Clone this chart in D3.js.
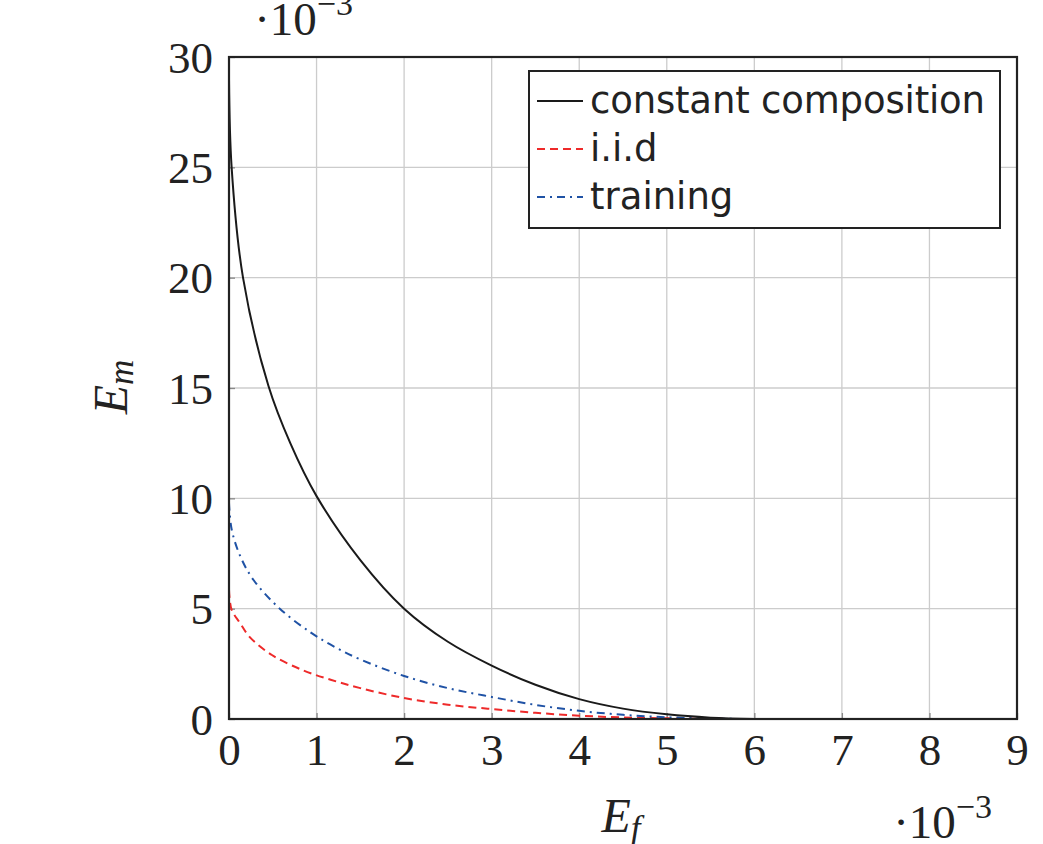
<html>
<head>
    <meta charset="UTF-8" />
    <script src="https://d3js.org/d3.v7.min.js"></script>
    <style>
        body { margin: 0; background: white; }
        .tick text { font-family: 'Liberation Serif', serif; font-size: 45px; fill: #222; }
        .legend text { font-family: 'DejaVu Sans', sans-serif; fill: #222; }
    </style>
</head>
<body>
<svg id='chart' width='1043' height='844'></svg>
<script>
    // data (E_f and E_m both in units of 1e-3)
    const xTicks = [0, 1, 2, 3, 4, 5, 6, 7, 8, 9];
    const yTicks = [0, 5, 10, 15, 20, 25, 30];

    const constEf = [0, 0.03, 0.16, 0.45, 0.7, 1, 1.5, 2, 2.5, 3, 3.5, 4, 4.5, 5, 5.5, 6];
    const constEm = [29, 25, 20, 15.1, 12.5, 10.1, 7.2, 5.0, 3.5, 2.42, 1.55, 0.9, 0.47, 0.21, 0.06, 0];

    const iidEf = [0, 0.03, 0.126, 0.24, 0.49, 0.85, 1.17, 1.5, 2, 2.5, 3, 3.5, 4, 4.5, 5, 5.5, 6];
    const iidEm = [5.85, 4.95, 4.35, 3.7, 2.9, 2.2, 1.77, 1.4, 0.95, 0.65, 0.45, 0.28, 0.15, 0.07, 0.03, 0.01, 0];

    const trainEf = [0, 0.03, 0.126, 0.28, 0.58, 0.94, 1.21, 1.5, 2, 2.5, 3, 3.5, 4, 4.5, 5, 5.5, 6];
    const trainEm = [9.8, 8.6, 7.4, 6.3, 5.0, 3.9, 3.26, 2.7, 1.95, 1.4, 1.0, 0.64, 0.37, 0.19, 0.08, 0.02, 0];

    const seriesNames = ['constant composition', 'i.i.d', 'training'];
    const seriesColors = ['#1a1a1a', '#ee2a2a', '#1f52a5'];
    const seriesDash = [null, '8,5', '8,5,2,5'];

    const svg = d3.select('svg#chart');
    const margins = {top: 57, right: 26, bottom: 125, left: 229};
    const chartWidth = 1043 - margins.left - margins.right;
    const chartHeight = 844 - margins.top - margins.bottom;
    const chartArea = svg.append('g')
        .attr('transform', `translate(${margins.left}, ${margins.top})`);

    const xScale = d3.scaleLinear().domain([0, 9]).range([0, chartWidth]);
    const yScale = d3.scaleLinear().domain([0, 30]).range([chartHeight, 0]);

    // gridlines
    xTicks.forEach(t => {
        chartArea.append('line')
            .attr('x1', xScale(t)).attr('x2', xScale(t))
            .attr('y1', 0).attr('y2', chartHeight)
            .style('stroke', '#cccccc').style('stroke-width', '1.3px');
    });
    yTicks.forEach(t => {
        chartArea.append('line')
            .attr('x1', 0).attr('x2', chartWidth)
            .attr('y1', yScale(t)).attr('y2', yScale(t))
            .style('stroke', '#cccccc').style('stroke-width', '1.3px');
    });

    // axes (ticks pointing inward, pgfplots style)
    const xAxis = chartArea.append('g')
        .attr('transform', `translate(0, ${chartHeight})`)
        .call(d3.axisBottom(xScale).tickValues(xTicks).tickSize(-6).tickPadding(14));
    const yAxis = chartArea.append('g')
        .call(d3.axisLeft(yScale).tickValues(yTicks).tickSize(-6).tickPadding(16));
    [xAxis, yAxis].forEach(a => {
        a.select('.domain').remove();
        a.selectAll('.tick line').style('stroke', '#888').style('stroke-width', '1.3px');
    });
    xAxis.selectAll('.tick text').attr('dy', '0.72em');
    yAxis.selectAll('.tick text').attr('dy', '0.34em');

    // curves
    const line = d3.line().curve(d3.curveCatmullRom.alpha(0.5))
        .x(d => xScale(d[0])).y(d => yScale(d[1]));
    const seriesData = [
        constEf.map((v, i) => [v, constEm[i]]),
        iidEf.map((v, i) => [v, iidEm[i]]),
        trainEf.map((v, i) => [v, trainEm[i]])
    ];
    [1, 2, 0].forEach(k => {
        chartArea.append('path')
            .attr('d', line(seriesData[k]))
            .attr('fill', 'none')
            .attr('stroke', seriesColors[k])
            .attr('stroke-width', 2)
            .attr('stroke-dasharray', seriesDash[k]);
    });

    // frame
    chartArea.append('rect')
        .attr('x', 0).attr('y', 0)
        .attr('width', chartWidth).attr('height', chartHeight)
        .attr('fill', 'none').attr('stroke', '#222').attr('stroke-width', 2.2);

    // legend
    const legend = chartArea.append('g').attr('class', 'legend')
        .attr('transform', `translate(${529 - margins.left}, ${71 - margins.top})`);
    legend.append('rect')
        .attr('width', 471).attr('height', 157)
        .attr('fill', 'white').attr('stroke', '#222').attr('stroke-width', 2);
    seriesNames.forEach((name, i) => {
        const cy = 30 + i * 48;
        legend.append('line')
            .attr('x1', 8).attr('x2', 54)
            .attr('y1', cy).attr('y2', cy)
            .attr('stroke', seriesColors[i]).attr('stroke-width', 2)
            .attr('stroke-dasharray', seriesDash[i]);
        legend.append('text')
            .attr('x', 61).attr('y', cy + 12)
            .style('font-size', '37px')
            .attr('textLength', i === 0 ? 395 : null)
            .text(name);
    });

    // axis labels
    const lab = svg.append('g').style('font-family', "'Liberation Serif', serif").style('fill', '#222');
    const ym = lab.append('text')
        .attr('transform', 'translate(127, 387) rotate(-90)')
        .attr('text-anchor', 'middle')
        .style('font-size', '48px').style('font-style', 'italic');
    ym.append('tspan').text('E');
    ym.append('tspan').text('m').style('font-size', '35px').attr('dy', '6');

    const xf = lab.append('text')
        .attr('x', 621).attr('y', 832)
        .attr('text-anchor', 'middle')
        .style('font-size', '48px').style('font-style', 'italic');
    xf.append('tspan').text('E');
    xf.append('tspan').text('f').style('font-size', '35px').attr('dy', '8');

    // scale factors
    [[353, 35], [992, 838]].forEach(p => {
        const t = lab.append('text').attr('x', p[0]).attr('y', p[1])
            .attr('text-anchor', 'end').style('font-size', '47px');
        t.append('tspan').text('·10');
        t.append('tspan').text('−3').style('font-size', '34px').attr('dy', '-20');
    });
</script>
</body>
</html>
